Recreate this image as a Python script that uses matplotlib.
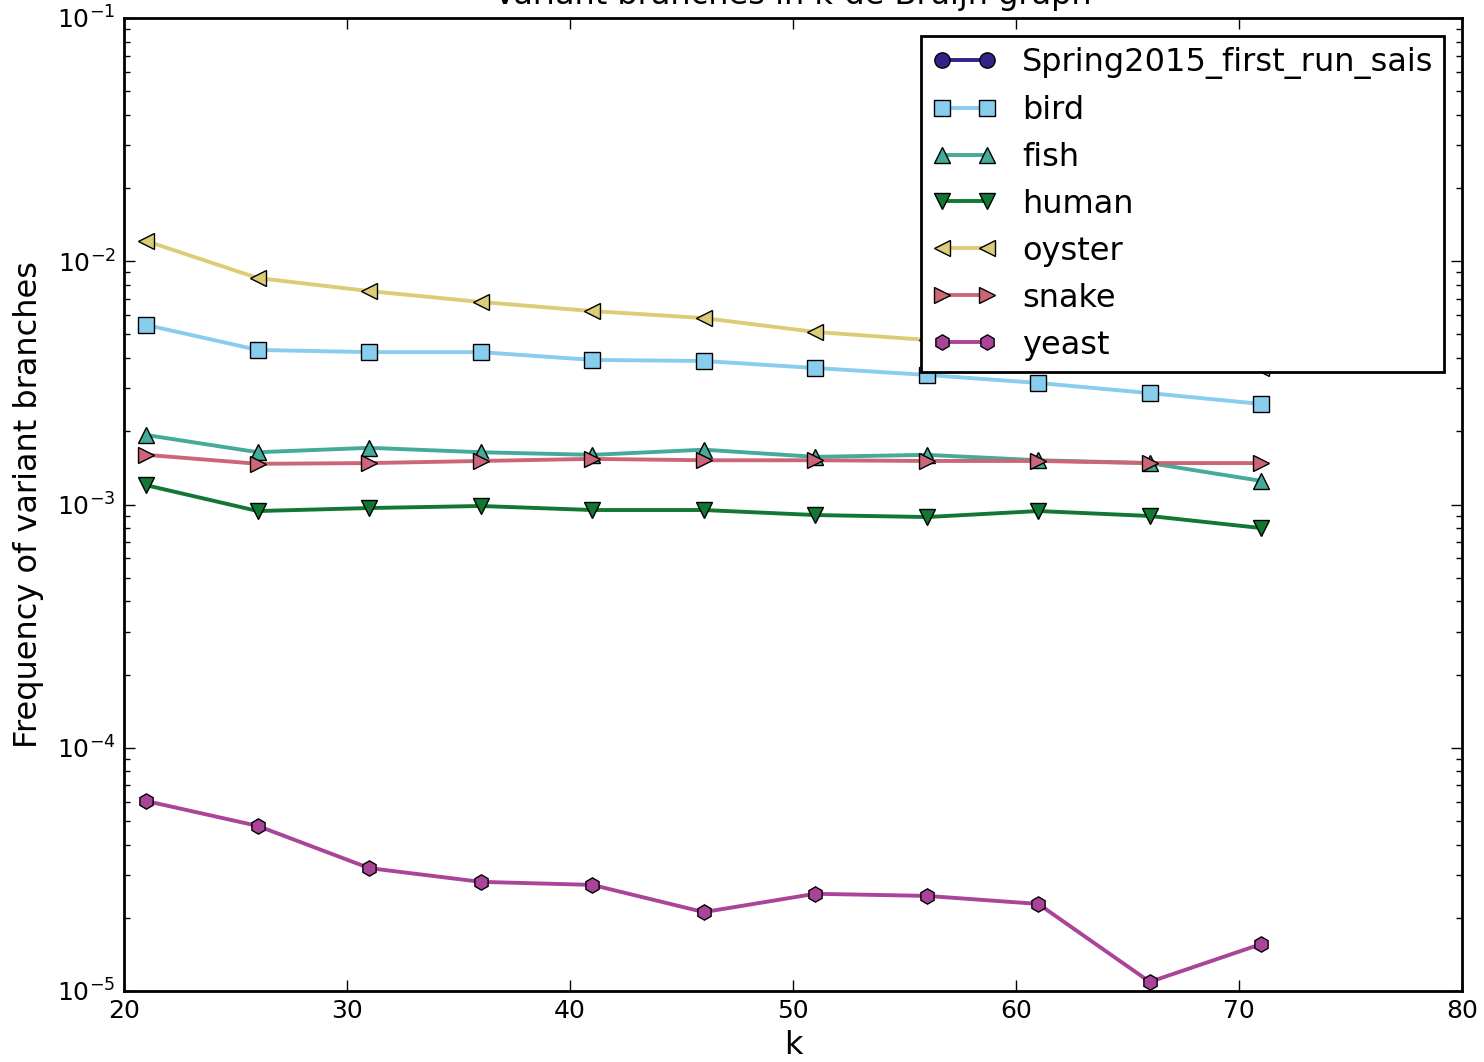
import matplotlib
matplotlib.use("Agg")
import matplotlib.pyplot as plt

k = [21, 26, 31, 36, 41, 46, 51, 56, 61, 66, 71]

spring2015 = []
bird = [0.00547, 0.00432, 0.00423, 0.00423, 0.00393, 0.00389, 0.00364, 0.00341, 0.00316, 0.00287, 0.00259]
fish = [0.00193, 0.00164, 0.00171, 0.00164, 0.00160, 0.00168, 0.00157, 0.00160, 0.00152, 0.00148, 0.00125]
human = [0.00120, 0.000940, 0.000967, 0.000986, 0.000949, 0.000949, 0.000905, 0.000888, 0.000940, 0.000897, 0.000800]
oyster = [0.01211, 0.00853, 0.00754, 0.00680, 0.00624, 0.00584, 0.00512, 0.00475, 0.00432, 0.00393, 0.00364]
snake = [0.00160, 0.00147, 0.00148, 0.00151, 0.00154, 0.00152, 0.00152, 0.00151, 0.00151, 0.00148, 0.00148]
yeast = [6.04e-5, 4.77e-5, 3.20e-5, 2.81e-5, 2.73e-5, 2.11e-5, 2.51e-5, 2.46e-5, 2.28e-5, 1.09e-5, 1.56e-5]

names = ["Spring2015_first_run_sais", "bird", "fish", "human", "oyster", "snake", "yeast"]
colors = ["#332288", "#88CCEE", "#44AA99", "#117733", "#DDCC77", "#CC6677", "#AA4499"]
markers = ["o", "s", "^", "v", "<", ">", "h"]

plt.rcParams["axes.unicode_minus"] = False
plt.rcParams["font.family"] = "DejaVu Sans"

fig = plt.figure(figsize=(14.84, 10.62), dpi=100)
ax = fig.add_axes([124 / 1484, 1 - 991 / 1062, (1462 - 124) / 1484, (991 - 18) / 1062])

series = [spring2015, bird, fish, human, oyster, snake, yeast]
for name, ys, c, m in zip(names, series, colors, markers):
    xs = k[:len(ys)]
    ax.plot(xs, ys, color=c, marker=m, label=name, linewidth=2.8,
            markersize=11, markeredgecolor="black", markeredgewidth=1.0)

ax.set_yscale("log")
ax.set_xlim(20, 80)
ax.set_ylim(1e-5, 1e-1)
ax.set_xlabel("k", fontsize=23, labelpad=5)
ax.set_ylabel("Frequency of variant branches", fontsize=23, labelpad=9)
ax.set_title("Variant branches in k-de Bruijn graph", fontsize=23, pad=10)

for s in ax.spines.values():
    s.set_linewidth(2)
ax.tick_params(which="both", direction="in", top=True, right=True, labelsize=18)
ax.tick_params(which="major", length=8, width=1, pad=6)
ax.tick_params(which="minor", length=4, width=1)

leg = ax.legend(loc="upper right", numpoints=2, fontsize=23, fancybox=False,
                framealpha=1, borderaxespad=0.55, handlelength=2.0,
                handletextpad=0.8, labelspacing=0.5, borderpad=0.35)
leg.get_frame().set_edgecolor("black")
leg.get_frame().set_linewidth(2)

fig.savefig("out.png", dpi=100, facecolor="white")
